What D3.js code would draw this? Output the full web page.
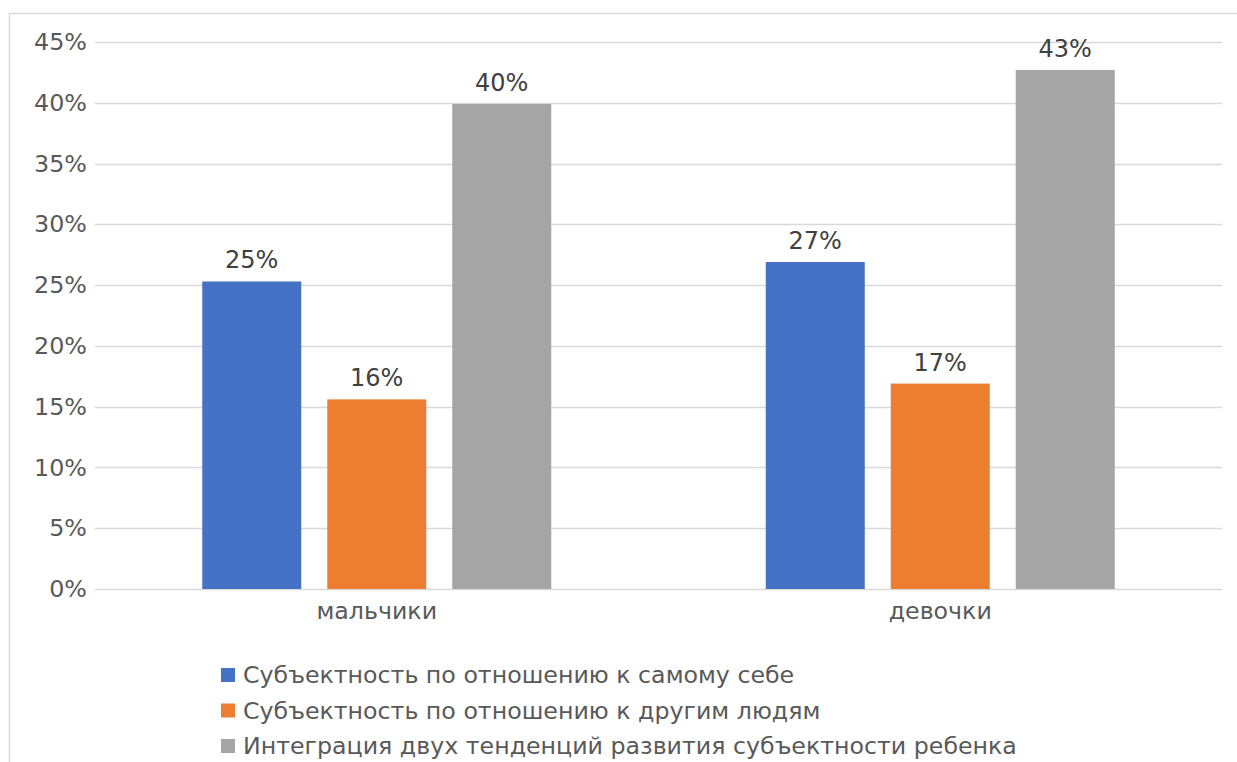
<!DOCTYPE html>
<html>
<head>
<meta charset="utf-8">
<script src="https://cdn.jsdelivr.net/npm/d3@7"></script>
<style>
  html, body { margin: 0; padding: 0; background: #fff; }
  svg { display: block; font-family: "DejaVu Sans", sans-serif; }
</style>
</head>
<body>
<svg id="chart" width="1237" height="762"></svg>
<script>
// Groups along the x axis
const categories = ["мальчики", "девочки"];
// Series names (legend order)
const seriesNames = [
  "Субъектность по отношению к самому себе",
  "Субъектность по отношению к другим людям",
  "Интеграция двух тенденций развития субъектности ребенка"
];
// Shares per series, one entry per category
const selfValues = [0.253, 0.269];
const othersValues = [0.156, 0.169];
const integrationValues = [0.399, 0.427];
// Y tick values
const yTicks = [0, 0.05, 0.10, 0.15, 0.20, 0.25, 0.30, 0.35, 0.40, 0.45];

const colors = ["#4472c4", "#ed7d31", "#a5a5a5"];
const seriesValues = [selfValues, othersValues, integrationValues];

const svg = d3.select("#chart");
const W = 1237, H = 762;

// Chart frame
svg.append("path")
  .attr("d", `M9.5,${H} V13.5 H${W}`)
  .attr("fill", "none")
  .attr("stroke", "#d9d9d9")
  .attr("stroke-width", 1.5);

const plot = { left: 95, right: 1222, top: 42, bottom: 589 };

const y = d3.scaleLinear().domain([0, 0.45]).range([plot.bottom, plot.top]);
const x0 = d3.scaleBand().domain(categories).range([plot.left, plot.right]).paddingInner(0).paddingOuter(0);
// Inner band: 3 bars of ~99px with ~26px gaps inside a ~349px group
const groupWidth = 349;
const x1 = d3.scaleBand().domain(d3.range(seriesNames.length)).range([0, groupWidth]).paddingInner(26 / 125).paddingOuter(0);

// Gridlines
svg.append("g")
  .selectAll("line")
  .data(yTicks)
  .join("line")
  .attr("x1", plot.left).attr("x2", plot.right)
  .attr("y1", d => Math.round(y(d)) + 0.5).attr("y2", d => Math.round(y(d)) + 0.5)
  .attr("stroke", "#d9d9d9")
  .attr("stroke-width", 1.5);

// Y axis labels
const yAxis = d3.axisLeft(y).tickValues(yTicks).tickFormat(d3.format(".0%")).tickSize(0).tickPadding(8);
const yg = svg.append("g").attr("transform", `translate(${plot.left},0)`).call(yAxis);
yg.select(".domain").remove();
yg.selectAll("text")
  .attr("fill", "#595959")
  .style("font-size", "23.8px")
  .style("font-family", "DejaVu Sans, sans-serif");

// Bars
const groups = svg.append("g")
  .selectAll("g")
  .data(categories)
  .join("g")
  .attr("transform", c => `translate(${x0(c) + (x0.bandwidth() - groupWidth) / 2},0)`);

groups.selectAll("rect")
  .data((c, ci) => seriesValues.map((vals, si) => ({ si, v: vals[ci] })))
  .join("rect")
  .attr("x", d => x1(d.si))
  .attr("width", x1.bandwidth())
  .attr("y", d => y(d.v))
  .attr("height", d => y(0) - y(d.v))
  .attr("fill", d => colors[d.si]);

// Data labels
groups.selectAll("text")
  .data((c, ci) => seriesValues.map((vals, si) => ({ si, v: vals[ci] })))
  .join("text")
  .attr("x", d => x1(d.si) + x1.bandwidth() / 2)
  .attr("y", d => y(d.v) - 13)
  .attr("text-anchor", "middle")
  .attr("fill", "#404040")
  .style("font-size", "24px")
  .text(d => d3.format(".0%")(d.v));

// X axis labels
const xAxis = d3.axisBottom(x0).tickSize(0).tickPadding(13);
const xg = svg.append("g").attr("transform", `translate(0,${plot.bottom})`).call(xAxis);
xg.select(".domain").remove();
xg.selectAll("text")
  .attr("fill", "#595959")
  .style("font-size", "23.7px")
  .style("font-family", "DejaVu Sans, sans-serif");

// Legend
const legend = svg.append("g").attr("transform", "translate(221,675)");
const item = legend.selectAll("g")
  .data(seriesNames)
  .join("g")
  .attr("transform", (d, i) => `translate(0,${i * 35.5})`);
item.append("rect")
  .attr("x", 0).attr("y", -7)
  .attr("width", 14).attr("height", 14)
  .attr("fill", (d, i) => colors[i]);
item.append("text")
  .attr("x", 22).attr("y", 0)
  .attr("dy", "0.35em")
  .attr("fill", "#595959")
  .style("font-size", "23.7px")
  .text(d => d);
</script>
</body>
</html>
